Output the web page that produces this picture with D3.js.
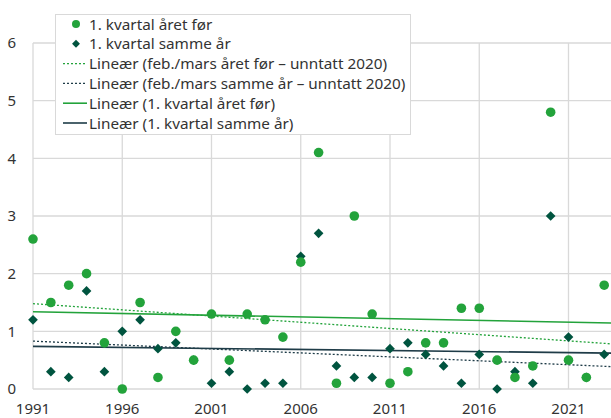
<!DOCTYPE html>
<html>
<head>
<meta charset="utf-8">
<script src="https://cdn.jsdelivr.net/npm/d3@7/dist/d3.min.js"></script>
<style>
  body { margin: 0; background: #fff; }
  svg { display: block; font-family: "Noto Sans", "Open Sans", sans-serif; }
</style>
</head>
<body>
<div id="chart"></div>
<script>
// years on the x axis
const years = d3.range(1991, 2024);

// 1. kvartal året før
const aretFor = [2.6, 1.5, 1.8, 2.0, 0.8, 0.0, 1.5, 0.2, 1.0, 0.5,
  1.3, 0.5, 1.3, 1.2, 0.9, 2.2, 4.1, 0.1, 3.0, 1.3,
  0.1, 0.3, 0.8, 0.8, 1.4, 1.4, 0.5, 0.2, 0.4, 4.8,
  0.5, 0.2, 1.8];

// 1. kvartal samme år
const sammeAr = [1.2, 0.3, 0.2, 1.7, 0.3, 1.0, 1.2, 0.7, 0.8, 0.5,
  0.1, 0.3, 0.0, 0.1, 0.1, 2.3, 2.7, 0.4, 0.2, 0.2,
  0.7, 0.8, 0.6, 0.4, 0.1, 0.6, 0.0, 0.3, 0.1, 3.0,
  0.9, 0.2, 0.6];

// trend lines, value at start and end year
const trendYears = [1991, 2024];
const trendFebAretFor = [1.48, 0.77];
const trendFebSammeAr = [0.83, 0.38];
const trendAretFor = [1.34, 1.14];
const trendSammeAr = [0.74, 0.62];

const yTicks = [0, 1, 2, 3, 4, 5, 6];
const xTicks = [1991, 1996, 2001, 2006, 2011, 2016, 2021];

const legendLabels = [
  "1. kvartal året før",
  "1. kvartal samme år",
  "Lineær (feb./mars året før – unntatt 2020)",
  "Lineær (feb./mars samme år – unntatt 2020)",
  "Lineær (1. kvartal året før)",
  "Lineær (1. kvartal samme år)"
];

const width = 611, height = 418;
const green = "#23a33b", dark = "#00543f", slate = "#1f3c48";
const gridColor = "#d9d9d9", textColor = "#333";

const x = d3.scaleLinear().domain([1991, 2024]).range([33, 33 + 33 * 17.85]);
const y = d3.scaleLinear().domain([0, 6]).range([389, 43]);

const svg = d3.select("#chart").append("svg")
  .attr("width", width)
  .attr("height", height);

// gridlines
svg.append("g")
  .selectAll("line")
  .data(yTicks)
  .enter().append("line")
  .attr("x1", x(1991)).attr("x2", width)
  .attr("y1", d => y(d)).attr("y2", d => y(d))
  .attr("stroke", gridColor).attr("stroke-width", 1.3);

svg.append("g")
  .selectAll("line")
  .data(xTicks)
  .enter().append("line")
  .attr("x1", d => x(d)).attr("x2", d => x(d))
  .attr("y1", y(6)).attr("y2", y(0))
  .attr("stroke", gridColor).attr("stroke-width", 1.3);

// axis labels
svg.append("g")
  .selectAll("text")
  .data(yTicks)
  .enter().append("text")
  .attr("x", 16)
  .attr("y", d => y(d))
  .attr("dy", "0.36em")
  .attr("text-anchor", "end")
  .attr("fill", textColor)
  .style("font-size", "15px")
  .text(d => d);

svg.append("g")
  .selectAll("text")
  .data(xTicks)
  .enter().append("text")
  .attr("x", d => x(d))
  .attr("y", 414)
  .attr("text-anchor", "middle")
  .attr("fill", textColor)
  .style("font-size", "15px")
  .text(d => d);

// trend lines
const trends = [
  { vals: trendFebAretFor, color: green, dash: "2,2", w: 1.3 },
  { vals: trendFebSammeAr, color: slate, dash: "2,2", w: 1.3 },
  { vals: trendAretFor, color: green, dash: null, w: 1.6 },
  { vals: trendSammeAr, color: slate, dash: null, w: 1.6 }
];

const line = d3.line()
  .x(d => x(d[0]))
  .y(d => y(d[1]));

trends.forEach(t => {
  svg.append("path")
    .attr("d", line(trendYears.map((yr, i) => [yr, t.vals[i]])))
    .attr("fill", "none")
    .attr("stroke", t.color)
    .attr("stroke-width", t.w)
    .attr("stroke-dasharray", t.dash);
});

// points
svg.append("g")
  .selectAll("path")
  .data(years.map((yr, i) => [yr, sammeAr[i]]))
  .enter().append("path")
  .attr("d", d3.symbol().type(d3.symbolDiamond2).size(60))
  .attr("transform", d => "translate(" + x(d[0]) + "," + y(d[1]) + ")")
  .attr("fill", dark);

svg.append("g")
  .selectAll("circle")
  .data(years.map((yr, i) => [yr, aretFor[i]]))
  .enter().append("circle")
  .attr("cx", d => x(d[0]))
  .attr("cy", d => y(d[1]))
  .attr("r", 4.8)
  .attr("fill", green);

// legend
const legend = svg.append("g");
legend.append("rect")
  .attr("x", 55.5).attr("y", 14.5)
  .attr("width", 355).attr("height", 120)
  .attr("fill", "#fff")
  .attr("stroke", gridColor);

const rowY = i => 24 + i * 19.8;

legend.append("circle")
  .attr("cx", 76).attr("cy", rowY(0)).attr("r", 4)
  .attr("fill", green);
legend.append("path")
  .attr("d", d3.symbol().type(d3.symbolDiamond2).size(40))
  .attr("transform", "translate(76," + rowY(1) + ")")
  .attr("fill", dark);

trends.forEach((t, i) => {
  legend.append("line")
    .attr("x1", 63).attr("x2", 87)
    .attr("y1", rowY(i + 2)).attr("y2", rowY(i + 2))
    .attr("stroke", t.color)
    .attr("stroke-width", t.w)
    .attr("stroke-dasharray", t.dash);
});

legend.selectAll("text")
  .data(legendLabels)
  .enter().append("text")
  .attr("x", 89)
  .attr("y", (d, i) => rowY(i))
  .attr("dy", "0.36em")
  .attr("fill", textColor)
  .style("font-size", "15.3px")
  .text(d => d);
</script>
</body>
</html>
